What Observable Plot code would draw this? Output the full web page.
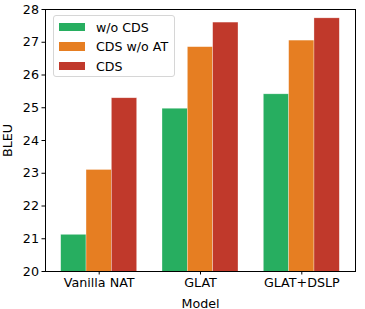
<!DOCTYPE html>
<html>
<head>
<meta charset="utf-8">
<script src="https://cdn.jsdelivr.net/npm/d3@7"></script>
<script src="https://cdn.jsdelivr.net/npm/@observablehq/plot@0.6"></script>
<style>
  body { margin: 0; background: #fff; }
  #wrap { position: relative; width: 365px; height: 309px; font-family: "DejaVu Sans", sans-serif; }
  #wrap svg text { font-size: 12.7px; font-family: "DejaVu Sans", sans-serif; fill: #000; }
  #legend { position: absolute; left: 53px; top: 15px; width: 122px; height: 62px;
    border: 1px solid #d6d6d6; border-radius: 3px; background: rgba(255,255,255,0.8); box-sizing: border-box; }
  .row { position: absolute; left: 0; height: 14px; display: flex; align-items: center; font-size: 12.6px; color: #000; }
  .sw { width: 26px; height: 8.5px; margin-left: 5px; margin-right: 11px; }
</style>
</head>
<body>
<div id="wrap"></div>
<script>
const models = ["Vanilla NAT", "GLAT", "GLAT+DSLP"];
const series = ["w/o CDS", "CDS w/o AT", "CDS"];
const woCDS = [21.12, 24.97, 25.41];
const cdsWoAT = [23.10, 26.85, 27.05];
const cds = [25.29, 27.60, 27.73];
const colors = ["#27ae60", "#e67e22", "#c0392b"];
const yTicks = [20, 21, 22, 23, 24, 25, 26, 27, 28];

const values = [woCDS, cdsWoAT, cds];
const bw = 0.25;
const rows = models.flatMap((m, i) => series.map((s, j) => ({model: m, series: s, i, j, value: values[j][i]})));

const chart = Plot.plot({
  width: 365,
  height: 309,
  marginLeft: 45,
  marginRight: 10,
  marginTop: 9,
  marginBottom: 38,
  style: {fontFamily: "DejaVu Sans, sans-serif", fontSize: "12.7px", color: "#000", background: "transparent"},
  x: {domain: [-0.53, 2.53], ticks: [0, 1, 2], tickFormat: i => models[i], label: "Model", labelArrow: false, labelAnchor: "center", labelOffset: 36, tickSize: 3.5, tickPadding: 3},
  y: {domain: [20, 28], ticks: yTicks, label: "BLEU", labelArrow: false, labelAnchor: "center", labelOffset: 43, tickSize: 3.5, tickPadding: 3},
  color: {domain: series, range: colors},
  marks: [
    Plot.rectY(rows, {
      x1: d => d.i + (d.j - 1) * bw - bw / 2,
      x2: d => d.i + (d.j - 1) * bw + bw / 2,
      y1: 0, y2: "value", fill: "series", clip: true,
      stroke: "#fff", strokeOpacity: 0.5, strokeWidth: 0.6
    }),
    Plot.frame({stroke: "#000", strokeWidth: 1})
  ]
});
const wrap = document.getElementById("wrap");
wrap.appendChild(chart);

const legend = document.createElement("div");
legend.id = "legend";
series.forEach((s, j) => {
  const r = document.createElement("div");
  r.className = "row";
  r.style.top = (4 + j * 19.5) + "px";
  const sw = document.createElement("div");
  sw.className = "sw";
  sw.style.background = colors[j];
  const t = document.createElement("span");
  t.textContent = s;
  r.appendChild(sw); r.appendChild(t);
  legend.appendChild(r);
});
wrap.appendChild(legend);
</script>
</body>
</html>
